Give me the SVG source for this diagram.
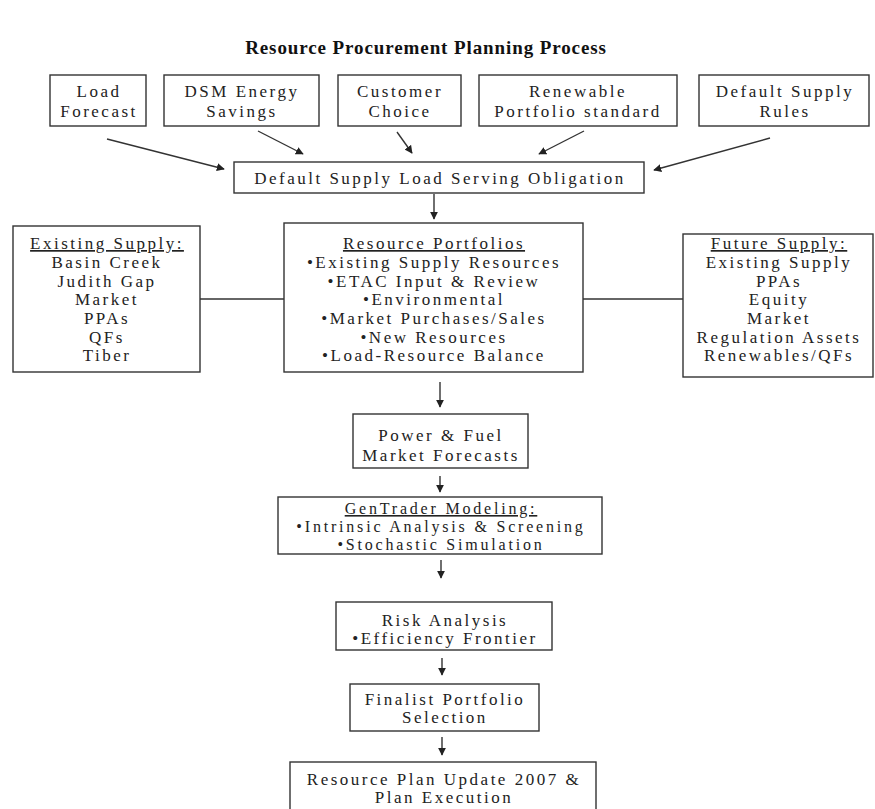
<svg xmlns="http://www.w3.org/2000/svg" width="875" height="809" viewBox="0 0 875 809">
<defs>
<style>
.bg{fill:#ffffff}
.box{fill:#ffffff;stroke:#333;stroke-width:1.4}
.t{font-family:"Liberation Serif","Times New Roman",serif;font-size:17px;letter-spacing:2.5px;fill:#222;text-anchor:middle}
.s{font-size:16px;letter-spacing:2.8px}
.title{font-family:"Liberation Serif","Times New Roman",serif;font-size:19px;font-weight:bold;letter-spacing:0.9px;fill:#111;text-anchor:middle}
.u{text-decoration:underline}
.c{stroke:#333;stroke-width:1.4;fill:none}
.a{stroke:#333;stroke-width:1.4;fill:none;marker-end:url(#ah)}
</style>
<marker id="ah" viewBox="0 0 10 10" refX="9" refY="5" markerWidth="8" markerHeight="8" markerUnits="userSpaceOnUse" orient="auto">
<path d="M0,0 L10,5 L0,10 z" fill="#222"/>
</marker>
</defs>
<rect class="bg" x="0" y="0" width="875" height="809"/>
<text class="title" x="426" y="54">Resource Procurement Planning Process</text>

<g id="connectors">
<line class="a" x1="107" y1="139" x2="224" y2="169"/>
<line class="a" x1="258" y1="131" x2="303" y2="154"/>
<line class="a" x1="397" y1="132" x2="412" y2="153"/>
<line class="a" x1="584" y1="131" x2="539" y2="154"/>
<line class="a" x1="770" y1="138" x2="654" y2="170"/>
<line class="a" x1="434" y1="194" x2="434" y2="219"/>
<line class="c" x1="200" y1="299" x2="284" y2="299"/>
<line class="c" x1="583" y1="299" x2="683" y2="299"/>
<line class="a" x1="440" y1="382" x2="440" y2="407"/>
<line class="a" x1="440" y1="476" x2="440" y2="492"/>
<line class="a" x1="441" y1="560" x2="441" y2="578"/>
<line class="a" x1="442" y1="658" x2="442" y2="675"/>
<line class="a" x1="442" y1="737" x2="442" y2="755"/>
</g>

<g id="load-forecast">
<rect class="box" x="50" y="75" width="96" height="51"/>
<text class="t" x="99" y="97">Load</text>
<text class="t" x="99" y="117">Forecast</text>
</g>
<g id="dsm">
<rect class="box" x="164" y="75" width="155" height="51"/>
<text class="t" x="242" y="97">DSM Energy</text>
<text class="t" x="242" y="117">Savings</text>
</g>
<g id="customer-choice">
<rect class="box" x="338" y="75" width="123" height="51"/>
<text class="t" x="400" y="97">Customer</text>
<text class="t" x="400" y="117">Choice</text>
</g>
<g id="renewable">
<rect class="box" x="479" y="75" width="198" height="51"/>
<text class="t" x="578" y="97">Renewable</text>
<text class="t" x="578" y="117">Portfolio standard</text>
</g>
<g id="default-rules">
<rect class="box" x="699" y="75" width="170" height="51"/>
<text class="t" x="785" y="97">Default Supply</text>
<text class="t" x="785" y="117">Rules</text>
</g>
<g id="obligation">
<rect class="box" x="234" y="162" width="410" height="31"/>
<text class="t" x="440" y="184">Default Supply Load Serving Obligation</text>
</g>

<g id="existing-supply">
<rect class="box" x="13" y="226" width="187" height="146"/>
<text class="t u" x="107" y="249">Existing Supply:</text>
<text class="t" x="107" y="268">Basin Creek</text>
<text class="t" x="107" y="287">Judith Gap</text>
<text class="t" x="107" y="305">Market</text>
<text class="t" x="107" y="324">PPAs</text>
<text class="t" x="107" y="343">QFs</text>
<text class="t" x="107" y="361">Tiber</text>
</g>
<g id="resource-portfolios">
<rect class="box" x="284" y="223" width="299" height="149"/>
<text class="t u" x="434" y="249">Resource Portfolios</text>
<text class="t" x="434" y="268">•Existing Supply Resources</text>
<text class="t" x="434" y="287">•ETAC Input &amp; Review</text>
<text class="t" x="434" y="305">•Environmental</text>
<text class="t" x="434" y="324">•Market Purchases/Sales</text>
<text class="t" x="434" y="343">•New Resources</text>
<text class="t" x="434" y="361">•Load-Resource Balance</text>
</g>
<g id="future-supply">
<rect class="box" x="683" y="234" width="190" height="143"/>
<text class="t u" x="779" y="249">Future Supply:</text>
<text class="t" x="779" y="268">Existing Supply</text>
<text class="t" x="779" y="287">PPAs</text>
<text class="t" x="779" y="305">Equity</text>
<text class="t" x="779" y="324">Market</text>
<text class="t" x="779" y="343">Regulation Assets</text>
<text class="t" x="779" y="361">Renewables/QFs</text>
</g>

<g id="power-fuel">
<rect class="box" x="353" y="414" width="175" height="54"/>
<text class="t" x="441" y="441">Power &amp; Fuel</text>
<text class="t" x="441" y="461">Market Forecasts</text>
</g>
<g id="gentrader">
<rect class="box" x="278" y="497" width="324" height="57"/>
<text class="t s u" x="441" y="514">GenTrader Modeling:</text>
<text class="t s" x="441" y="532">•Intrinsic Analysis &amp; Screening</text>
<text class="t s" x="441" y="550">•Stochastic Simulation</text>
</g>
<g id="risk-analysis">
<rect class="box" x="336" y="602" width="216" height="48"/>
<text class="t" x="445" y="626">Risk Analysis</text>
<text class="t" x="445" y="644">•Efficiency Frontier</text>
</g>
<g id="finalist">
<rect class="box" x="350" y="684" width="189" height="47"/>
<text class="t" x="445" y="705">Finalist Portfolio</text>
<text class="t" x="445" y="723">Selection</text>
</g>
<g id="resource-plan">
<rect class="box" x="290" y="762" width="306" height="55"/>
<text class="t" x="444" y="785">Resource Plan Update 2007 &amp;</text>
<text class="t" x="444" y="803">Plan Execution</text>
</g>
</svg>
